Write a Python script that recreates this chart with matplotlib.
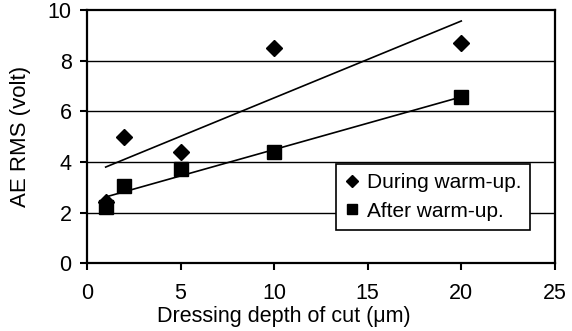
import numpy as np
import matplotlib
matplotlib.use("Agg")
from matplotlib import pyplot as plt

plt.rcParams['font.family'] = ['Liberation Sans', 'DejaVu Sans']

depth = [1, 2, 5, 10, 20]
during = [2.4, 5.0, 4.37, 8.51, 8.71]
after = [2.23, 3.06, 3.72, 4.37, 6.55]
xticks = [0, 5, 10, 15, 20, 25]
yticks = [0, 2, 4, 6, 8, 10]

fig = plt.figure(figsize=(5.72, 3.31), dpi=100)
ax = fig.add_axes([0.152, 0.205, 0.818, 0.765])

ax.set_xlim(0, 25)
ax.set_ylim(0, 10)
for y in yticks[1:-1]:
	ax.axhline(y, color='black', lw=1.0, zorder=1)

ax.plot(depth, during, 'D', color='black', ms=8, zorder=3, label='During warm-up.')
ax.plot(depth, after, 's', color='black', ms=9.5, zorder=3, label='After warm-up.')

# linear trendlines
x = np.array(depth)
for ys in (during, after):
	k, b = np.polyfit(x, ys, 1)
	ax.plot([x.min(), x.max()], [k*x.min()+b, k*x.max()+b], color='black', lw=1.2, zorder=2)

ax.set_xticks(xticks)
ax.set_yticks(yticks)
ax.tick_params(direction='out', length=5, width=1.5, labelsize=15.5, color='black')
ax.tick_params(axis='x', pad=9)
ax.tick_params(axis='y', pad=6)
for s in ax.spines.values():
	s.set_linewidth(1.6)

ax.set_ylabel('AE RMS (volt)', fontsize=16)
ax.yaxis.set_label_coords(-0.12, 0.5)
ax.set_xlabel('Dressing depth of cut (\u03bcm)', fontsize=15.5)
ax.xaxis.set_label_coords(0.42, -0.212)
ax.xaxis.label.set_va('center')

leg = ax.legend(loc='lower right', bbox_to_anchor=(0.97, 0.09), fontsize=15,
	frameon=True, fancybox=False, edgecolor='black', framealpha=1,
	markerscale=0.8, handlelength=0.6, handletextpad=0.4, borderpad=0.45, labelspacing=0.45)
leg.get_frame().set_linewidth(1.2)

fig.savefig('out.png', dpi=100)
